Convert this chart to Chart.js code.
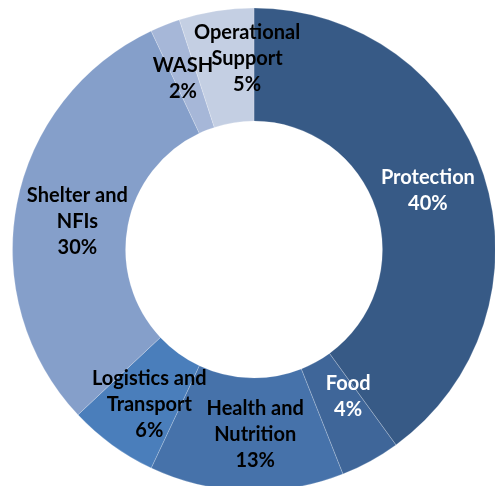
<!DOCTYPE html>
<html>
<head>
<meta charset="utf-8">
<script src="https://cdn.jsdelivr.net/npm/chart.js@4/dist/chart.umd.min.js"></script>
<style>
html,body{margin:0;padding:0;background:#fff;overflow:hidden;width:495px;height:486px;}
#wrap{position:absolute;left:0;top:0;width:508px;height:499px;}
</style>
</head>
<body>
<div id="wrap"><canvas id="c" width="508" height="499"></canvas></div>
<script>
const categories = ["Protection", "Food", "Health and Nutrition", "Logistics and Transport", "Shelter and NFIs", "WASH", "Operational Support"];
const labelLines = [["Protection"], ["Food"], ["Health and", "Nutrition"], ["Logistics and", "Transport"], ["Shelter and", "NFIs"], ["WASH"], ["Operational", "Support"]];
const values = [40, 4, 13, 6, 30, 2, 5];
const colors = ["#375A86", "#3F6699", "#4672AA", "#4A7EBB", "#859FCA", "#A6B7D8", "#C4CFE3"];
const labelColors = ["#FFFFFF", "#FFFFFF", "#000000", "#000000", "#000000", "#000000", "#000000"];

// small label nudges (px) relative to the slice's mid-ring position
const labelNudgeX = [-2, 5, 7, 4, 5, -3, 22];
const labelNudgeY = [-2, -15, 0, 5, 7, 1, -8];

const labelPlugin = {
  id: 'sliceLabels',
  afterDatasetsDraw(chart) {
    const ctx = chart.ctx;
    const meta = chart.getDatasetMeta(0);
    const total = values.reduce((a, b) => a + b, 0);
    ctx.save();
    ctx.font = 'bold 20px Lato, "Open Sans", sans-serif';
    ctx.textAlign = 'center';
    ctx.textBaseline = 'middle';
    meta.data.forEach((arc, i) => {
      const p = arc.tooltipPosition();
      const lines = labelLines[i].concat([Math.round(values[i] / total * 100) + '%']);
      const lh = 26;
      const cx = p.x + labelNudgeX[i];
      const y0 = p.y + labelNudgeY[i] - (lines.length - 1) * lh / 2;
      ctx.fillStyle = labelColors[i];
      lines.forEach((t, j) => ctx.fillText(t, cx, y0 + j * lh));
    });
    ctx.restore();
  }
};

new Chart(document.getElementById('c'), {
  type: 'doughnut',
  data: {
    labels: categories,
    datasets: [{
      data: values,
      backgroundColor: colors,
      borderColor: 'rgba(255,255,255,0.35)',
      borderWidth: 0.6
    }]
  },
  options: {
    responsive: false,
    animation: false,
    radius: 241.5,
    cutout: 132.5,
    layout: { padding: 0 },
    plugins: { legend: { display: false }, tooltip: { enabled: false } }
  },
  plugins: [labelPlugin]
});
</script>
</body>
</html>
